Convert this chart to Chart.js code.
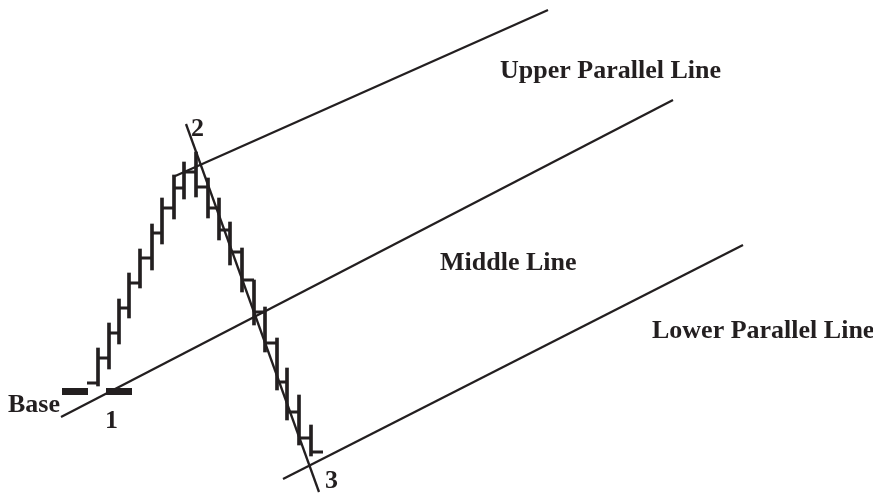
<!DOCTYPE html>
<html>
<head>
<meta charset="utf-8">
<script src="https://cdn.jsdelivr.net/npm/chart.js@4.4.1/dist/chart.umd.min.js"></script>
<style>
  html, body { margin: 0; padding: 0; background: #fff; }
  #wrap { width: 873px; height: 498px; }
</style>
</head>
<body>
<div id="wrap"><canvas id="pitchfork" width="873" height="498"></canvas></div>
<script>
// Price bars: time position, high, low, close (first bar also has an open)
const barTime  = [98, 109, 119, 129, 140, 152, 162, 174, 184, 196, 208, 219, 230, 242, 254, 265, 277, 287, 299, 311];
const barHigh  = [150, 175, 199, 225, 249, 274, 300, 323, 336, 346, 320, 300, 276, 250, 218, 191, 160, 130, 103, 73];
const barLow   = [112, 129, 154, 180, 210, 228, 254, 279, 299, 301, 280, 258, 233, 206, 173, 146, 108, 78, 53, 42];
const barClose = [140, 165, 190, 215, 240, 265, 290, 310, 326, 311, 290, 268, 246, 218, 186, 155, 116, 86, 60, 46];
const firstOpen = 115;

// Pitchfork lines as [start, end] points (time, price)
const middleLine = [[61, 81], [673, 398]];
const upperLine  = [[173, 321], [548, 488]];
const lowerLine  = [[283, 19], [743, 253]];
const trendLine  = [[186, 374], [319, 6]];

// Base level and the two base blocks (time from / to)
const baseLevel = 106.5;
const baseBlocks = [[62, 88], [106, 132]];

// Text labels anchored at (time, price)
const labels = [
  { text: 'Upper Parallel Line', x: 500, y: 420 },
  { text: 'Middle Line', x: 440, y: 228 },
  { text: 'Lower Parallel Line', x: 652, y: 160 },
  { text: 'Base', x: 8, y: 86 },
  { text: '1', x: 105, y: 70 },
  { text: '2', x: 191, y: 362 },
  { text: '3', x: 325, y: 10 }
];

const ink = '#231f20';

// close ticks join each bar to the next one
const tickPoints = [];
tickPoints.push({ x: barTime[0] - (barTime[1] - barTime[0]), y: firstOpen }, { x: barTime[0], y: firstOpen }, { x: barTime[0], y: null });
barTime.forEach((t, i) => {
  const next = i < barTime.length - 1 ? barTime[i + 1] : t + (t - barTime[i - 1]);
  tickPoints.push({ x: t, y: barClose[i] }, { x: next, y: barClose[i] }, { x: next, y: null });
});

const basePoints = [];
baseBlocks.forEach(b => {
  basePoints.push({ x: b[0], y: baseLevel }, { x: b[1], y: baseLevel }, { x: b[1], y: null });
});

function seg(pts, width) {
  return {
    type: 'line',
    data: pts.map(p => ({ x: p[0], y: p[1] })),
    borderColor: ink,
    borderWidth: width,
    pointRadius: 0,
    borderCapStyle: 'butt',
    fill: false,
    tension: 0
  };
}

const labelPlugin = {
  id: 'labels',
  afterDatasetsDraw(chart) {
    const ctx = chart.ctx;
    const xs = chart.scales.x;
    const ys = chart.scales.y;
    ctx.save();
    ctx.fillStyle = ink;
    ctx.font = 'bold 26px "Liberation Serif", "Times New Roman", serif';
    ctx.textBaseline = 'alphabetic';
    ctx.textAlign = 'left';
    labels.forEach(l => {
      ctx.fillText(l.text, xs.getPixelForValue(l.x), ys.getPixelForValue(l.y));
    });
    ctx.restore();
  }
};

new Chart(document.getElementById('pitchfork'), {
  type: 'bar',
  data: {
    datasets: [
      {
        type: 'bar',
        data: barTime.map((t, i) => ({ x: t, y: [barLow[i], barHigh[i]] })),
        backgroundColor: ink,
        barThickness: 3,
        grouped: false
      },
      {
        type: 'line',
        data: tickPoints,
        borderColor: ink,
        borderWidth: 3,
        pointRadius: 0,
        borderCapStyle: 'butt',
        spanGaps: false,
        fill: false
      },
      {
        type: 'line',
        data: basePoints,
        borderColor: ink,
        borderWidth: 7,
        pointRadius: 0,
        borderCapStyle: 'butt',
        spanGaps: false,
        fill: false
      },
      seg(middleLine, 2.3),
      seg(upperLine, 2.3),
      seg(lowerLine, 2.3),
      seg(trendLine, 2.3)
    ]
  },
  options: {
    responsive: false,
    animation: false,
    layout: { padding: 0 },
    plugins: {
      legend: { display: false },
      tooltip: { enabled: false }
    },
    scales: {
      x: { type: 'linear', min: 0, max: 873, offset: false, display: false },
      y: { type: 'linear', min: 0, max: 498, display: false }
    }
  },
  plugins: [labelPlugin]
});
</script>
</body>
</html>
